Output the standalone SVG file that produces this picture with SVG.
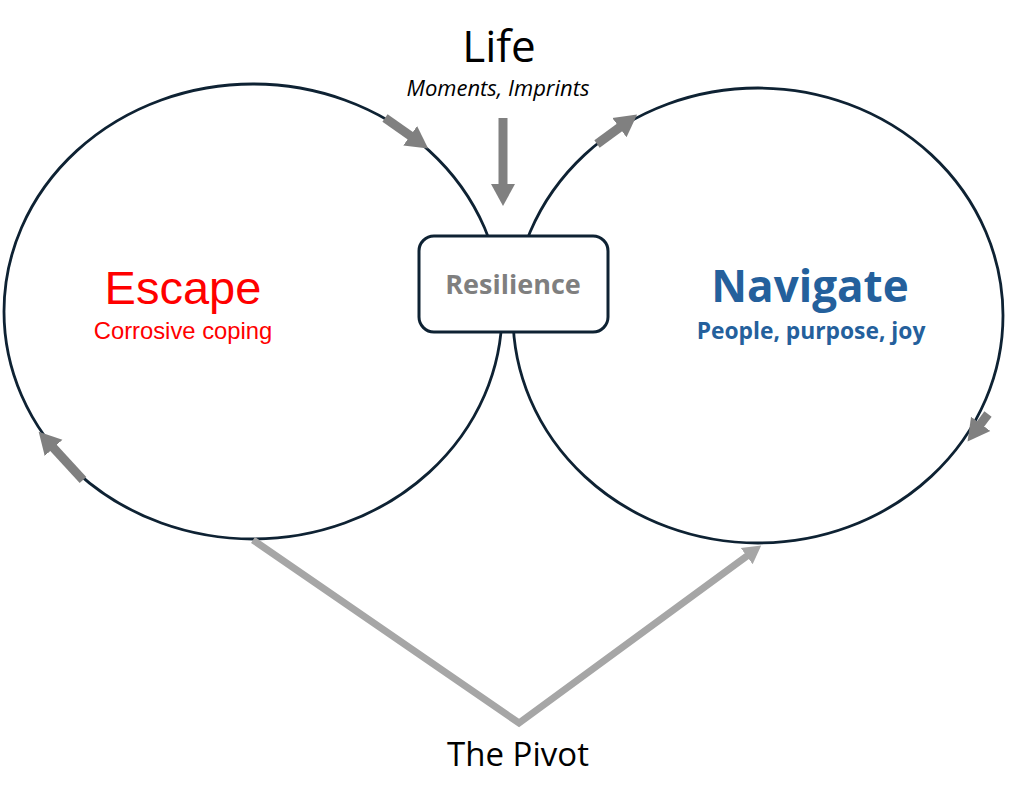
<svg xmlns="http://www.w3.org/2000/svg" width="1017" height="800" viewBox="0 0 1017 800">
<style>
.ring{fill:none;stroke:#0e2233;stroke-width:2.8}
.flow{stroke:#808080;stroke-width:9;fill:none}
.pivot{stroke:#a6a6a6;stroke-width:7;fill:none;stroke-linejoin:miter}
text{font-family:"Open Sans","Liberation Sans",sans-serif;text-anchor:middle}
.arial{font-family:"Liberation Sans",Arial,sans-serif}
</style>
<defs>
<marker id="ah" markerUnits="userSpaceOnUse" markerWidth="26" markerHeight="26" viewBox="0 0 26 26" refX="1" refY="13" orient="auto"><path d="M0,1 L22,13 L0,25 Z" fill="#808080"/></marker>
<marker id="ahp" markerUnits="userSpaceOnUse" markerWidth="22" markerHeight="22" viewBox="0 0 22 22" refX="1" refY="11" orient="auto"><path d="M0,1 L18,11 L0,21 Z" fill="#a6a6a6"/></marker>
</defs>
<rect width="1017" height="800" fill="#ffffff"/>
<g id="escape">
<ellipse class="ring" cx="253" cy="311.5" rx="249" ry="227.5"/>
<text class="arial" x="183" y="304" font-size="47" fill="#ff0000">Escape</text>
<text class="arial" x="183" y="339" font-size="23.8" fill="#ff0000">Corrosive coping</text>
</g>
<g id="navigate">
<ellipse class="ring" cx="758" cy="315.5" rx="245" ry="227.5"/>
<text x="810" y="302" font-size="44" font-weight="bold" fill="#24609c">Navigate</text>
<text x="811" y="339" font-size="22.8" font-weight="bold" fill="#24609c">People, purpose, joy</text>
</g>
<g id="resilience">
<rect x="419" y="236" width="189" height="96" rx="15" fill="#ffffff" stroke="#0e2233" stroke-width="3"/>
<text x="513" y="294" font-size="27" font-weight="bold" fill="#7f7f7f">Resilience</text>
</g>
<g id="life">
<text x="499" y="62" font-size="44" fill="#000000">Life</text>
<text x="498" y="96" font-size="22" font-style="italic" fill="#000000">Moments, Imprints</text>
</g>
<g id="pivot">
<text x="518" y="766" font-size="33" fill="#000000">The Pivot</text>
</g>
<g id="connectors">
<line class="flow" x1="385" y1="118" x2="411" y2="136.3" marker-end="url(#ah)"/>
<line class="flow" x1="503" y1="118" x2="503" y2="185" marker-end="url(#ah)"/>
<line class="flow" x1="597" y1="144" x2="620.2" y2="127" marker-end="url(#ah)"/>
<line class="flow" x1="83" y1="480" x2="52.9" y2="447.2" marker-end="url(#ah)"/>
<line class="flow" x1="988" y1="414" x2="980.1" y2="424.6" marker-end="url(#ah)"/>
<polyline class="pivot" points="253,540 519,723 747.5,555.6" marker-end="url(#ahp)"/>
</g>
</svg>
